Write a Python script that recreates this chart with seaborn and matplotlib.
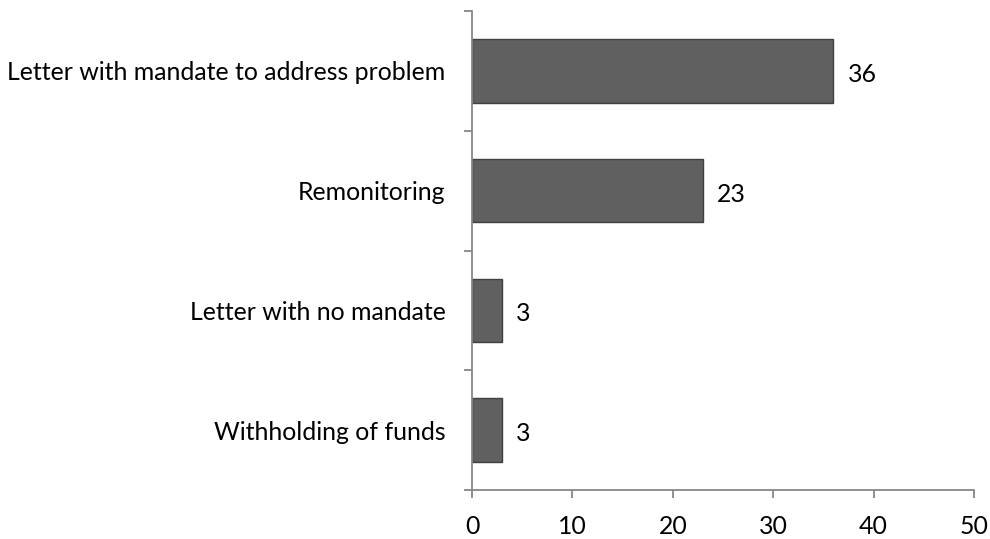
import matplotlib
matplotlib.use("Agg")
import matplotlib.pyplot as plt
import seaborn as sns
import pandas as pd

categories = [
    "Letter with mandate to address problem",
    "Remonitoring",
    "Letter with no mandate",
    "Withholding of funds",
]
counts = [36, 23, 3, 3]
x_ticks = [0, 10, 20, 30, 40, 50]

sns.set_theme(style="white")
plt.rcParams["font.family"] = ["Lato", "DejaVu Sans"]

df = pd.DataFrame({"category": categories, "count": counts})

fig = plt.figure(figsize=(9.9, 5.39), dpi=100)
ax = fig.add_axes([472 / 990, 1 - 490 / 539, (974 - 472) / 990, (490 - 11) / 539])

sns.barplot(data=df, x="count", y="category", orient="h", color="#606060",
            saturation=1, width=0.53, edgecolor="#404040", linewidth=1, ax=ax)

axis_color = "#878787"
fs = 17.9
ax.set_xlim(0, 50)
ax.set_ylim(3.5, -0.5)
ax.set_xticks(x_ticks)
ax.set_yticks([-0.5, 0.5, 1.5, 2.5, 3.5], minor=True)
ax.tick_params(axis="y", which="major", length=0, labelsize=fs, pad=19, colors="black")
ax.tick_params(axis="y", which="minor", length=6, width=1.3, color=axis_color, left=True)
ax.tick_params(axis="x", length=6, width=1.3, color=axis_color, labelsize=fs, pad=12,
               bottom=True, labelcolor="black")
ax.set_xlabel("")
ax.set_ylabel("")
for side in ["top", "right"]:
    ax.spines[side].set_visible(False)
for side in ["left", "bottom"]:
    ax.spines[side].set_color(axis_color)
    ax.spines[side].set_linewidth(1.3)

for i, v in enumerate(counts):
    ax.text(v + 1.4, i + 0.03, str(v), va="center", ha="left", fontsize=fs, color="black")

fig.savefig("out.png", dpi=100)
